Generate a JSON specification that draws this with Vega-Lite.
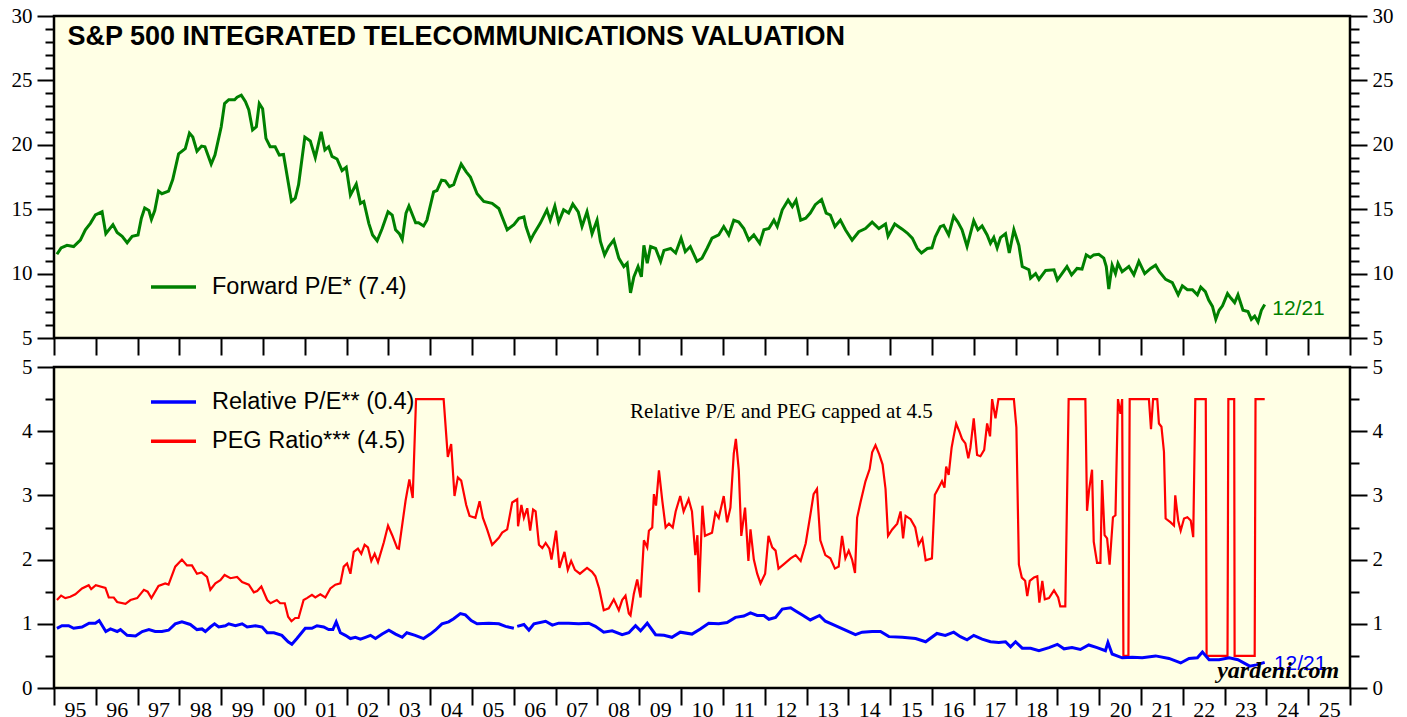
{
  "$schema": "https://vega.github.io/schema/vega-lite/v6.json",
  "background": "white",
  "padding": {"left": 9, "top": 3, "right": 5, "bottom": 5},
  "spacing": 29,
  "bounds": "flush",
  "resolve": {"scale": {"color": "independent"}, "legend": {"color": "independent"}},
  "config": {
    "view": {"stroke": "black", "strokeWidth": 2.5, "fill": "#FFFFE5"},
    "axis": {"labelFont": "Liberation Serif", "labelFontSize": 21, "labelColor": "black", "tickColor": "black", "tickWidth": 2, "domain": false, "grid": false}
  },
  "datasets": {
    "pe": [
      {"t":1995.07,"v":11.5},{"t":1995.17,"v":12.0},{"t":1995.31,"v":12.2},{"t":1995.47,"v":12.1},{"t":1995.63,"v":12.6},{"t":1995.75,"v":13.4},{"t":1995.87,"v":13.9},{"t":1995.99,"v":14.55},
      {"t":1996.15,"v":14.8},{"t":1996.24,"v":13.1},{"t":1996.41,"v":13.8},{"t":1996.51,"v":13.2},{"t":1996.63,"v":12.9},{"t":1996.75,"v":12.4},{"t":1996.87,"v":12.9},
      {"t":1997.01,"v":13.0},{"t":1997.09,"v":14.3},{"t":1997.17,"v":15.1},{"t":1997.27,"v":14.9},{"t":1997.33,"v":14.2},{"t":1997.41,"v":14.9},{"t":1997.5,"v":16.4},{"t":1997.58,"v":16.2},{"t":1997.74,"v":16.4},{"t":1997.84,"v":17.3},{"t":1997.98,"v":19.3},
      {"t":1998.14,"v":19.7},{"t":1998.24,"v":20.9},{"t":1998.32,"v":20.6},{"t":1998.42,"v":19.5},{"t":1998.53,"v":19.9},{"t":1998.61,"v":19.85},{"t":1998.76,"v":18.5},{"t":1998.85,"v":19.2},
      {"t":1999.0,"v":21.4},{"t":1999.08,"v":23.2},{"t":1999.18,"v":23.5},{"t":1999.32,"v":23.5},{"t":1999.38,"v":23.7},{"t":1999.48,"v":23.85},{"t":1999.58,"v":23.35},{"t":1999.66,"v":22.7},{"t":1999.75,"v":21.15},{"t":1999.84,"v":21.4},{"t":1999.91,"v":23.2},{"t":1999.99,"v":22.8},
      {"t":2000.07,"v":20.5},{"t":2000.17,"v":19.85},{"t":2000.29,"v":19.85},{"t":2000.39,"v":19.2},{"t":2000.49,"v":19.25},{"t":2000.68,"v":15.6},{"t":2000.77,"v":15.85},{"t":2000.85,"v":16.9},
      {"t":2001.0,"v":20.6},{"t":2001.13,"v":20.3},{"t":2001.25,"v":19.0},{"t":2001.39,"v":21.0},{"t":2001.48,"v":19.6},{"t":2001.57,"v":19.85},{"t":2001.65,"v":19.1},{"t":2001.77,"v":18.9},{"t":2001.89,"v":18.0},{"t":2001.99,"v":18.25},
      {"t":2002.09,"v":16.1},{"t":2002.23,"v":16.95},{"t":2002.33,"v":15.45},{"t":2002.41,"v":15.6},{"t":2002.53,"v":13.9},{"t":2002.62,"v":13.0},{"t":2002.73,"v":12.55},{"t":2002.85,"v":13.5},{"t":2002.99,"v":14.8},
      {"t":2003.09,"v":14.55},{"t":2003.17,"v":13.4},{"t":2003.26,"v":13.1},{"t":2003.33,"v":12.65},{"t":2003.42,"v":14.7},{"t":2003.49,"v":15.25},{"t":2003.65,"v":13.95},{"t":2003.72,"v":13.95},{"t":2003.84,"v":13.7},{"t":2003.92,"v":14.15},
      {"t":2004.08,"v":16.35},{"t":2004.16,"v":16.45},{"t":2004.27,"v":17.25},{"t":2004.36,"v":17.2},{"t":2004.46,"v":16.75},{"t":2004.56,"v":16.9},{"t":2004.64,"v":17.65},{"t":2004.74,"v":18.5},{"t":2004.86,"v":17.9},{"t":2004.96,"v":17.5},
      {"t":2005.12,"v":16.2},{"t":2005.28,"v":15.6},{"t":2005.48,"v":15.45},{"t":2005.64,"v":15.05},{"t":2005.84,"v":13.4},{"t":2006.0,"v":13.8},
      {"t":2006.12,"v":14.3},{"t":2006.24,"v":14.4},{"t":2006.29,"v":13.65},{"t":2006.4,"v":12.6},{"t":2006.48,"v":13.1},{"t":2006.63,"v":13.9},{"t":2006.79,"v":14.95},{"t":2006.87,"v":14.15},{"t":2006.98,"v":15.25},
      {"t":2007.07,"v":14.0},{"t":2007.19,"v":14.95},{"t":2007.31,"v":14.7},{"t":2007.41,"v":15.4},{"t":2007.54,"v":14.8},{"t":2007.63,"v":13.65},{"t":2007.75,"v":14.8},{"t":2007.87,"v":13.1},{"t":2007.99,"v":14.15},
      {"t":2008.07,"v":12.5},{"t":2008.17,"v":11.45},{"t":2008.27,"v":12.1},{"t":2008.39,"v":12.6},{"t":2008.51,"v":11.2},{"t":2008.63,"v":10.55},{"t":2008.71,"v":10.8},{"t":2008.79,"v":8.5},{"t":2008.87,"v":9.75},{"t":2008.97,"v":10.55},
      {"t":2009.05,"v":9.75},{"t":2009.11,"v":12.2},{"t":2009.19,"v":10.8},{"t":2009.27,"v":12.1},{"t":2009.39,"v":11.95},{"t":2009.51,"v":10.95},{"t":2009.59,"v":11.8},{"t":2009.75,"v":11.95},{"t":2009.87,"v":11.6},
      {"t":2010.0,"v":12.75},{"t":2010.1,"v":11.7},{"t":2010.22,"v":12.1},{"t":2010.38,"v":10.95},{"t":2010.5,"v":11.2},{"t":2010.62,"v":11.95},{"t":2010.74,"v":12.75},{"t":2010.9,"v":13.0},
      {"t":2011.02,"v":13.65},{"t":2011.14,"v":13.0},{"t":2011.26,"v":14.15},{"t":2011.38,"v":14.0},{"t":2011.5,"v":13.5},{"t":2011.62,"v":12.6},{"t":2011.74,"v":13.0},{"t":2011.88,"v":12.35},{"t":2011.98,"v":13.4},
      {"t":2012.1,"v":13.5},{"t":2012.22,"v":14.15},{"t":2012.3,"v":13.65},{"t":2012.42,"v":14.95},{"t":2012.56,"v":15.7},{"t":2012.66,"v":15.2},{"t":2012.75,"v":15.7},{"t":2012.86,"v":14.15},{"t":2012.98,"v":14.3},
      {"t":2013.09,"v":14.7},{"t":2013.21,"v":15.35},{"t":2013.36,"v":15.75},{"t":2013.47,"v":14.7},{"t":2013.57,"v":14.55},{"t":2013.68,"v":13.65},{"t":2013.81,"v":14.15},{"t":2013.93,"v":13.4},
      {"t":2014.09,"v":12.6},{"t":2014.25,"v":13.25},{"t":2014.41,"v":13.5},{"t":2014.57,"v":14.0},{"t":2014.73,"v":13.5},{"t":2014.89,"v":13.85},{"t":2014.95,"v":12.9},
      {"t":2015.11,"v":13.85},{"t":2015.29,"v":13.45},{"t":2015.41,"v":13.15},{"t":2015.53,"v":12.75},{"t":2015.65,"v":11.95},{"t":2015.75,"v":11.6},{"t":2015.89,"v":11.95},
      {"t":2016.0,"v":12.0},{"t":2016.08,"v":12.85},{"t":2016.2,"v":13.65},{"t":2016.28,"v":13.75},{"t":2016.4,"v":13.0},{"t":2016.52,"v":14.45},{"t":2016.62,"v":14.0},{"t":2016.72,"v":13.4},{"t":2016.84,"v":12.1},{"t":2016.92,"v":13.1},
      {"t":2017.0,"v":14.1},{"t":2017.1,"v":13.4},{"t":2017.2,"v":13.7},{"t":2017.32,"v":13.0},{"t":2017.4,"v":12.35},{"t":2017.48,"v":12.8},{"t":2017.56,"v":12.0},{"t":2017.64,"v":12.8},{"t":2017.76,"v":13.1},{"t":2017.85,"v":11.6},{"t":2017.96,"v":13.4},
      {"t":2018.08,"v":12.2},{"t":2018.16,"v":10.55},{"t":2018.32,"v":10.3},{"t":2018.36,"v":9.65},{"t":2018.48,"v":10.0},{"t":2018.56,"v":9.55},{"t":2018.72,"v":10.25},{"t":2018.92,"v":10.3},
      {"t":2019.0,"v":9.5},{"t":2019.11,"v":10.0},{"t":2019.23,"v":10.55},{"t":2019.34,"v":9.9},{"t":2019.47,"v":10.4},{"t":2019.59,"v":10.35},{"t":2019.69,"v":11.45},{"t":2019.79,"v":11.25},{"t":2019.87,"v":11.45},{"t":2019.99,"v":11.5},
      {"t":2020.11,"v":11.2},{"t":2020.17,"v":10.55},{"t":2020.23,"v":8.8},{"t":2020.31,"v":10.65},{"t":2020.39,"v":10.0},{"t":2020.45,"v":10.8},{"t":2020.55,"v":10.15},{"t":2020.71,"v":10.55},{"t":2020.83,"v":9.9},{"t":2020.95,"v":10.95},
      {"t":2021.09,"v":10.0},{"t":2021.23,"v":10.4},{"t":2021.35,"v":10.65},{"t":2021.44,"v":10.15},{"t":2021.59,"v":9.55},{"t":2021.75,"v":9.3},{"t":2021.89,"v":8.35},{"t":2021.99,"v":9.05},
      {"t":2022.11,"v":8.75},{"t":2022.23,"v":8.75},{"t":2022.35,"v":8.35},{"t":2022.43,"v":8.95},{"t":2022.54,"v":8.6},{"t":2022.62,"v":7.95},{"t":2022.71,"v":7.45},{"t":2022.79,"v":6.45},{"t":2022.87,"v":7.15},{"t":2022.95,"v":7.5},
      {"t":2023.07,"v":8.45},{"t":2023.15,"v":8.1},{"t":2023.24,"v":7.75},{"t":2023.32,"v":8.35},{"t":2023.44,"v":7.15},{"t":2023.56,"v":7.05},{"t":2023.64,"v":6.45},{"t":2023.72,"v":6.7},{"t":2023.8,"v":6.25},{"t":2023.88,"v":7.15},{"t":2023.96,"v":7.6}
    ],
    "rel": [
      {"t":1995.07,"v":0.93},{"t":1995.19,"v":0.97},{"t":1995.35,"v":0.97},{"t":1995.47,"v":0.93},{"t":1995.67,"v":0.95},{"t":1995.84,"v":1.01},{"t":1995.99,"v":1.01},
      {"t":1996.08,"v":1.05},{"t":1996.24,"v":0.88},{"t":1996.35,"v":0.92},{"t":1996.51,"v":0.88},{"t":1996.59,"v":0.91},{"t":1996.75,"v":0.82},{"t":1996.95,"v":0.81},
      {"t":1997.11,"v":0.88},{"t":1997.27,"v":0.91},{"t":1997.42,"v":0.88},{"t":1997.58,"v":0.88},{"t":1997.74,"v":0.9},{"t":1997.9,"v":1.0},
      {"t":1998.06,"v":1.03},{"t":1998.26,"v":0.99},{"t":1998.42,"v":0.91},{"t":1998.54,"v":0.92},{"t":1998.62,"v":0.88},{"t":1998.74,"v":0.95},{"t":1998.84,"v":1.0},{"t":1998.94,"v":0.95},
      {"t":1999.1,"v":0.97},{"t":1999.18,"v":1.0},{"t":1999.34,"v":0.97},{"t":1999.5,"v":1.0},{"t":1999.62,"v":0.95},{"t":1999.82,"v":0.97},{"t":1999.98,"v":0.95},
      {"t":2000.1,"v":0.86},{"t":2000.26,"v":0.86},{"t":2000.45,"v":0.82},{"t":2000.6,"v":0.72},{"t":2000.69,"v":0.68},{"t":2000.81,"v":0.77},
      {"t":2001.01,"v":0.93},{"t":2001.17,"v":0.93},{"t":2001.29,"v":0.97},{"t":2001.45,"v":0.95},{"t":2001.57,"v":0.91},{"t":2001.67,"v":0.91},{"t":2001.75,"v":1.03},{"t":2001.85,"v":0.86},{"t":2001.97,"v":0.82},
      {"t":2002.09,"v":0.77},{"t":2002.21,"v":0.79},{"t":2002.33,"v":0.76},{"t":2002.45,"v":0.79},{"t":2002.57,"v":0.82},{"t":2002.69,"v":0.77},{"t":2002.85,"v":0.84},
      {"t":2003.01,"v":0.9},{"t":2003.17,"v":0.84},{"t":2003.33,"v":0.79},{"t":2003.44,"v":0.86},{"t":2003.64,"v":0.82},{"t":2003.84,"v":0.77},
      {"t":2004.0,"v":0.84},{"t":2004.12,"v":0.9},{"t":2004.28,"v":1.0},{"t":2004.44,"v":1.03},{"t":2004.56,"v":1.08},{"t":2004.72,"v":1.16},{"t":2004.84,"v":1.14},{"t":2004.98,"v":1.05},
      {"t":2005.12,"v":1.0},{"t":2005.4,"v":1.01},{"t":2005.64,"v":1.0},{"t":2005.8,"v":0.96},{"t":2006.0,"v":0.93},{"t":2006.04,"v":null},
      {"t":2006.08,"v":0.96},{"t":2006.24,"v":0.99},{"t":2006.36,"v":0.9},{"t":2006.48,"v":1.0},{"t":2006.76,"v":1.04},{"t":2006.92,"v":0.98},
      {"t":2007.07,"v":1.01},{"t":2007.31,"v":1.01},{"t":2007.55,"v":1.0},{"t":2007.79,"v":1.01},{"t":2007.95,"v":0.96},
      {"t":2008.15,"v":0.87},{"t":2008.35,"v":0.89},{"t":2008.59,"v":0.83},{"t":2008.75,"v":0.86},{"t":2008.91,"v":0.97},
      {"t":2009.03,"v":0.89},{"t":2009.19,"v":1.01},{"t":2009.39,"v":0.83},{"t":2009.59,"v":0.82},{"t":2009.78,"v":0.79},{"t":2009.98,"v":0.87},
      {"t":2010.26,"v":0.84},{"t":2010.46,"v":0.92},{"t":2010.66,"v":1.01},{"t":2010.9,"v":1.0},
      {"t":2011.1,"v":1.02},{"t":2011.3,"v":1.1},{"t":2011.5,"v":1.12},{"t":2011.66,"v":1.17},{"t":2011.82,"v":1.13},{"t":2011.98,"v":1.13},
      {"t":2012.1,"v":1.07},{"t":2012.26,"v":1.1},{"t":2012.42,"v":1.23},{"t":2012.62,"v":1.25},{"t":2012.74,"v":1.2},{"t":2012.89,"v":1.14},
      {"t":2013.09,"v":1.06},{"t":2013.31,"v":1.13},{"t":2013.45,"v":1.04},{"t":2013.69,"v":0.97},{"t":2013.93,"v":0.9},
      {"t":2014.17,"v":0.83},{"t":2014.33,"v":0.87},{"t":2014.57,"v":0.88},{"t":2014.77,"v":0.88},{"t":2014.97,"v":0.8},
      {"t":2015.29,"v":0.79},{"t":2015.61,"v":0.77},{"t":2015.85,"v":0.72},
      {"t":2016.12,"v":0.85},{"t":2016.32,"v":0.82},{"t":2016.52,"v":0.87},{"t":2016.68,"v":0.8},{"t":2016.84,"v":0.75},
      {"t":2017.0,"v":0.82},{"t":2017.2,"v":0.76},{"t":2017.4,"v":0.72},{"t":2017.6,"v":0.71},{"t":2017.76,"v":0.72},{"t":2017.88,"v":0.64},
      {"t":2018.0,"v":0.72},{"t":2018.16,"v":0.62},{"t":2018.36,"v":0.62},{"t":2018.56,"v":0.58},{"t":2018.8,"v":0.63},
      {"t":2019.0,"v":0.68},{"t":2019.16,"v":0.61},{"t":2019.35,"v":0.63},{"t":2019.55,"v":0.6},{"t":2019.75,"v":0.67},{"t":2019.95,"v":0.63},
      {"t":2020.15,"v":0.58},{"t":2020.21,"v":0.71},{"t":2020.31,"v":0.53},{"t":2020.55,"v":0.47},{"t":2020.79,"v":0.48},
      {"t":2021.03,"v":0.47},{"t":2021.35,"v":0.5},{"t":2021.67,"v":0.46},{"t":2021.95,"v":0.39},
      {"t":2022.15,"v":0.46},{"t":2022.35,"v":0.47},{"t":2022.47,"v":0.56},{"t":2022.63,"v":0.44},{"t":2022.87,"v":0.44},
      {"t":2023.11,"v":0.47},{"t":2023.32,"v":0.44},{"t":2023.6,"v":0.34},{"t":2023.76,"v":0.36},{"t":2023.96,"v":0.4}
    ],
    "peg": [
      {"t":1995.07,"v":1.37},{"t":1995.17,"v":1.44},{"t":1995.27,"v":1.4},{"t":1995.39,"v":1.42},{"t":1995.51,"v":1.46},{"t":1995.67,"v":1.55},{"t":1995.83,"v":1.6},{"t":1995.89,"v":1.54},
      {"t":1996.0,"v":1.6},{"t":1996.23,"v":1.56},{"t":1996.31,"v":1.41},{"t":1996.43,"v":1.41},{"t":1996.51,"v":1.34},{"t":1996.71,"v":1.31},{"t":1996.83,"v":1.37},{"t":1996.99,"v":1.4},
      {"t":1997.15,"v":1.53},{"t":1997.24,"v":1.5},{"t":1997.33,"v":1.4},{"t":1997.5,"v":1.59},{"t":1997.66,"v":1.63},{"t":1997.74,"v":1.61},{"t":1997.9,"v":1.89},
      {"t":1998.06,"v":2.0},{"t":1998.18,"v":1.91},{"t":1998.3,"v":1.91},{"t":1998.42,"v":1.78},{"t":1998.53,"v":1.8},{"t":1998.66,"v":1.73},{"t":1998.74,"v":1.53},{"t":1998.86,"v":1.63},{"t":1998.98,"v":1.68},
      {"t":1999.08,"v":1.76},{"t":1999.22,"v":1.71},{"t":1999.38,"v":1.73},{"t":1999.5,"v":1.65},{"t":1999.66,"v":1.61},{"t":1999.78,"v":1.49},{"t":1999.86,"v":1.51},{"t":1999.96,"v":1.58},
      {"t":2000.1,"v":1.37},{"t":2000.18,"v":1.32},{"t":2000.33,"v":1.37},{"t":2000.41,"v":1.32},{"t":2000.52,"v":1.32},{"t":2000.6,"v":1.11},{"t":2000.68,"v":1.04},{"t":2000.77,"v":1.09},{"t":2000.85,"v":1.09},{"t":2000.97,"v":1.37},
      {"t":2001.05,"v":1.4},{"t":2001.17,"v":1.45},{"t":2001.25,"v":1.41},{"t":2001.37,"v":1.46},{"t":2001.49,"v":1.41},{"t":2001.61,"v":1.55},{"t":2001.73,"v":1.61},{"t":2001.85,"v":1.63},{"t":2001.93,"v":1.89},
      {"t":2002.01,"v":1.94},{"t":2002.09,"v":1.78},{"t":2002.17,"v":2.12},{"t":2002.27,"v":2.17},{"t":2002.35,"v":2.09},{"t":2002.43,"v":2.23},{"t":2002.51,"v":2.19},{"t":2002.59,"v":1.98},{"t":2002.67,"v":2.09},{"t":2002.75,"v":1.96},{"t":2002.89,"v":2.27},{"t":2002.99,"v":2.53},
      {"t":2003.09,"v":2.38},{"t":2003.21,"v":2.18},{"t":2003.25,"v":2.17},{"t":2003.41,"v":2.92},{"t":2003.5,"v":3.25},{"t":2003.58,"v":2.96},{"t":2003.66,"v":4.5},
      {"t":2004.32,"v":4.5},{"t":2004.42,"v":3.6},{"t":2004.5,"v":3.8},{"t":2004.58,"v":2.99},{"t":2004.66,"v":3.28},{"t":2004.74,"v":3.23},{"t":2004.86,"v":2.85},{"t":2004.94,"v":2.68},
      {"t":2005.08,"v":2.65},{"t":2005.18,"v":2.91},{"t":2005.26,"v":2.65},{"t":2005.36,"v":2.47},{"t":2005.48,"v":2.23},{"t":2005.64,"v":2.34},{"t":2005.72,"v":2.42},{"t":2005.84,"v":2.47},{"t":2005.96,"v":2.89},
      {"t":2006.08,"v":2.94},{"t":2006.1,"v":2.52},{"t":2006.18,"v":2.85},{"t":2006.24,"v":2.65},{"t":2006.32,"v":2.8},{"t":2006.39,"v":2.45},{"t":2006.46,"v":2.78},{"t":2006.52,"v":2.75},{"t":2006.6,"v":2.23},{"t":2006.68,"v":2.18},{"t":2006.76,"v":2.26},{"t":2006.85,"v":2.17},{"t":2006.9,"v":2.0},
      {"t":2007.01,"v":2.45},{"t":2007.09,"v":1.87},{"t":2007.21,"v":2.12},{"t":2007.29,"v":1.84},{"t":2007.37,"v":1.98},{"t":2007.46,"v":1.84},{"t":2007.58,"v":1.78},{"t":2007.75,"v":1.87},{"t":2007.87,"v":1.81},{"t":2007.95,"v":1.74},
      {"t":2008.04,"v":1.55},{"t":2008.15,"v":1.21},{"t":2008.27,"v":1.24},{"t":2008.39,"v":1.38},{"t":2008.51,"v":1.21},{"t":2008.59,"v":1.37},{"t":2008.67,"v":1.44},{"t":2008.75,"v":1.16},{"t":2008.79,"v":1.13},{"t":2008.87,"v":1.47},{"t":2008.95,"v":1.69},
      {"t":2009.03,"v":1.41},{"t":2009.11,"v":2.3},{"t":2009.19,"v":2.19},{"t":2009.23,"v":2.45},{"t":2009.31,"v":2.5},{"t":2009.35,"v":3.02},{"t":2009.4,"v":2.84},{"t":2009.47,"v":3.39},{"t":2009.55,"v":2.92},{"t":2009.63,"v":2.5},{"t":2009.71,"v":2.56},{"t":2009.8,"v":2.5},{"t":2009.87,"v":2.75},{"t":2009.98,"v":2.99},
      {"t":2010.06,"v":2.75},{"t":2010.18,"v":2.94},{"t":2010.26,"v":2.75},{"t":2010.34,"v":2.07},{"t":2010.39,"v":2.38},{"t":2010.43,"v":1.49},{"t":2010.51,"v":2.84},{"t":2010.57,"v":2.37},{"t":2010.74,"v":2.42},{"t":2010.82,"v":2.73},{"t":2010.9,"v":2.65},
      {"t":2011.02,"v":2.99},{"t":2011.1,"v":2.58},{"t":2011.18,"v":2.81},{"t":2011.26,"v":3.65},{"t":2011.31,"v":3.88},{"t":2011.38,"v":3.39},{"t":2011.44,"v":2.37},{"t":2011.53,"v":2.81},{"t":2011.61,"v":1.98},{"t":2011.66,"v":2.47},{"t":2011.74,"v":2.0},{"t":2011.82,"v":1.78},{"t":2011.9,"v":1.63},
      {"t":2012.01,"v":1.78},{"t":2012.09,"v":2.37},{"t":2012.18,"v":2.19},{"t":2012.26,"v":2.14},{"t":2012.33,"v":1.86},{"t":2012.46,"v":1.93},{"t":2012.62,"v":2.02},{"t":2012.74,"v":2.07},{"t":2012.86,"v":1.98},{"t":2012.98,"v":2.25},
      {"t":2013.09,"v":2.69},{"t":2013.17,"v":3.02},{"t":2013.25,"v":3.1},{"t":2013.33,"v":2.3},{"t":2013.45,"v":2.07},{"t":2013.57,"v":2.02},{"t":2013.68,"v":1.86},{"t":2013.77,"v":1.89},{"t":2013.85,"v":2.37},{"t":2013.93,"v":2.02},
      {"t":2014.01,"v":2.14},{"t":2014.09,"v":2.0},{"t":2014.16,"v":1.79},{"t":2014.21,"v":2.65},{"t":2014.29,"v":2.89},{"t":2014.41,"v":3.22},{"t":2014.51,"v":3.41},{"t":2014.57,"v":3.67},{"t":2014.65,"v":3.78},{"t":2014.74,"v":3.64},{"t":2014.82,"v":3.48},{"t":2014.89,"v":3.1},{"t":2014.95,"v":2.37},
      {"t":2015.05,"v":2.47},{"t":2015.17,"v":2.56},{"t":2015.25,"v":2.75},{"t":2015.31,"v":2.33},{"t":2015.37,"v":2.68},{"t":2015.49,"v":2.63},{"t":2015.6,"v":2.5},{"t":2015.68,"v":2.23},{"t":2015.77,"v":2.33},{"t":2015.85,"v":1.99},
      {"t":2016.0,"v":2.02},{"t":2016.07,"v":3.01},{"t":2016.16,"v":3.12},{"t":2016.24,"v":3.22},{"t":2016.3,"v":3.12},{"t":2016.34,"v":3.45},{"t":2016.4,"v":3.32},{"t":2016.47,"v":3.74},{"t":2016.52,"v":3.92},{"t":2016.58,"v":4.12},{"t":2016.66,"v":3.99},{"t":2016.72,"v":3.88},{"t":2016.8,"v":3.81},{"t":2016.87,"v":3.58},{"t":2016.92,"v":3.74},
      {"t":2017.0,"v":4.2},{"t":2017.08,"v":3.63},{"t":2017.16,"v":3.61},{"t":2017.25,"v":3.71},{"t":2017.32,"v":4.12},{"t":2017.39,"v":3.92},{"t":2017.44,"v":4.5},{"t":2017.52,"v":4.2},{"t":2017.59,"v":4.5},{"t":2017.96,"v":4.5},
      {"t":2018.02,"v":4.06},{"t":2018.08,"v":1.92},{"t":2018.15,"v":1.72},{"t":2018.23,"v":1.67},{"t":2018.28,"v":1.43},{"t":2018.34,"v":1.67},{"t":2018.44,"v":1.72},{"t":2018.52,"v":1.74},{"t":2018.57,"v":1.33},{"t":2018.64,"v":1.67},{"t":2018.7,"v":1.38},{"t":2018.8,"v":1.4},{"t":2018.92,"v":1.52},
      {"t":2019.02,"v":1.41},{"t":2019.07,"v":1.27},{"t":2019.19,"v":1.27},{"t":2019.27,"v":4.5},{"t":2019.67,"v":4.5},{"t":2019.71,"v":2.76},{"t":2019.76,"v":3.09},{"t":2019.83,"v":3.4},{"t":2019.87,"v":2.28},{"t":2019.95,"v":1.95},
      {"t":2020.03,"v":1.95},{"t":2020.07,"v":3.24},{"t":2020.13,"v":2.38},{"t":2020.19,"v":2.33},{"t":2020.25,"v":1.92},{"t":2020.33,"v":2.66},{"t":2020.39,"v":2.69},{"t":2020.45,"v":4.5},{"t":2020.51,"v":4.27},{"t":2020.55,"v":4.5},{"t":2020.58,"v":0.5},{"t":2020.7,"v":0.5},{"t":2020.73,"v":4.5},
      {"t":2021.19,"v":4.5},{"t":2021.24,"v":4.03},{"t":2021.29,"v":4.5},{"t":2021.39,"v":4.5},{"t":2021.43,"v":4.12},{"t":2021.49,"v":4.07},{"t":2021.55,"v":3.68},{"t":2021.59,"v":2.64},{"t":2021.71,"v":2.58},{"t":2021.79,"v":2.53},{"t":2021.82,"v":3.0},{"t":2021.89,"v":2.61},{"t":2021.95,"v":2.45},
      {"t":2022.03,"v":2.64},{"t":2022.11,"v":2.66},{"t":2022.19,"v":2.61},{"t":2022.25,"v":2.35},{"t":2022.3,"v":4.5},{"t":2022.55,"v":4.5},{"t":2022.57,"v":0.5},
      {"t":2023.07,"v":0.5},{"t":2023.09,"v":4.5},{"t":2023.23,"v":4.5},{"t":2023.24,"v":0.5},{"t":2023.72,"v":0.5},{"t":2023.74,"v":4.5},{"t":2023.96,"v":4.5}
    ]
  },
  "vconcat": [
    {
      "width": 1296,
      "height": 322,
      "encoding": {
        "x": {"field": "t", "type": "quantitative", "scale": {"domain": [1995, 2026], "nice": false, "zero": false},
          "axis": {"title": null, "values": [1995,1996,1997,1998,1999,2000,2001,2002,2003,2004,2005,2006,2007,2008,2009,2010,2011,2012,2013,2014,2015,2016,2017,2018,2019,2020,2021,2022,2023,2024,2025,2026], "labels": false, "tickSize": 17}}
      },
      "layer": [
        {
          "data": {"name": "pe"},
          "mark": {"type": "line", "strokeWidth": 3},
          "encoding": {
            "y": {"field": "v", "type": "quantitative", "scale": {"domain": [5, 30], "nice": false, "zero": false},
              "axis": {"title": null, "orient": "left", "values": [5,10,15,20,25,30], "tickSize": 17, "labelPadding": 5}},
            "color": {"datum": "Forward P/E* (7.4)", "type": "nominal", "scale": {"domain": ["Forward P/E* (7.4)"], "range": ["#008000"]},
              "legend": {"orient": "none", "legendX": 95, "legendY": 246.5, "title": null, "labelFont": "Liberation Sans", "labelFontSize": 23.5, "labelColor": "black", "labelLimit": 0, "symbolType": "stroke", "symbolSize": 2025, "symbolStrokeWidth": 3.5, "labelOffset": 14, "padding": 0}}
          }
        },
        {
          "data": {"values": [{"t": 1995.32, "v": 27.75, "label": "S&P 500 INTEGRATED TELECOMMUNICATIONS VALUATION"}]},
          "mark": {"type": "text", "font": "Liberation Sans", "fontWeight": "bold", "fontSize": 27, "align": "left", "baseline": "alphabetic", "color": "black"},
          "encoding": {
            "y": {"field": "v", "type": "quantitative", "scale": {"domain": [5, 30], "nice": false, "zero": false},
              "axis": {"title": null, "orient": "right", "values": [5,10,15,20,25,30], "tickSize": 17, "labelPadding": 5}},
            "text": {"field": "label"}
          }
        },
        {
          "data": {"values": [{"t": 2024.14, "v": 6.79, "label": "12/21"}]},
          "mark": {"type": "text", "font": "Liberation Sans", "fontSize": 21, "align": "left", "baseline": "alphabetic", "color": "#008000"},
          "encoding": {
            "y": {"field": "v", "type": "quantitative", "scale": {"domain": [5, 30], "nice": false, "zero": false},
              "axis": {"title": null, "orient": "left", "values": [6,7,8,9,11,12,13,14,16,17,18,19,21,22,23,24,26,27,28,29], "tickSize": 9, "labels": false}},
            "text": {"field": "label"}
          }
        },
        {
          "data": {"values": [{"t": 2024.14, "v": 6.79}]},
          "mark": {"type": "point", "opacity": 0, "size": 1},
          "encoding": {
            "y": {"field": "v", "type": "quantitative", "scale": {"domain": [5, 30], "nice": false, "zero": false},
              "axis": {"title": null, "orient": "right", "values": [6,7,8,9,11,12,13,14,16,17,18,19,21,22,23,24,26,27,28,29], "tickSize": 9, "labels": false}}
          }
        }
      ],
      "resolve": {"axis": {"y": "independent"}}
    },
    {
      "width": 1296,
      "height": 321,
      "encoding": {
        "x": {"field": "t", "type": "quantitative", "scale": {"domain": [1995, 2026], "nice": false, "zero": false},
          "axis": {"title": null, "values": [1995,1996,1997,1998,1999,2000,2001,2002,2003,2004,2005,2006,2007,2008,2009,2010,2011,2012,2013,2014,2015,2016,2017,2018,2019,2020,2021,2022,2023,2024,2025,2026], "tickSize": 17,
            "labelExpr": "datum.value < 2026 ? format(datum.value % 100, '02d') : ''", "labelOffset": 21, "labelPadding": -6, "labelBaseline": "top", "labelFontSize": 22, "labelFlush": false, "labelOverlap": false}}
      },
      "layer": [
        {
          "data": {"name": "peg"},
          "mark": {"type": "line", "strokeWidth": 2.2},
          "encoding": {
            "y": {"field": "v", "type": "quantitative", "scale": {"domain": [0, 5], "nice": false, "zero": false},
              "axis": {"title": null, "orient": "right", "values": [0,1,2,3,4,5], "tickSize": 17, "labelPadding": 5}},
            "color": {"datum": "PEG Ratio*** (4.5)", "type": "nominal", "scale": {"domain": ["Relative P/E** (0.4)", "PEG Ratio*** (4.5)"], "range": ["#0000FF", "#FF0000"]},
              "legend": {"orient": "none", "legendX": 95, "legendY": 10.5, "title": null, "labelFont": "Liberation Sans", "labelFontSize": 23.5, "labelColor": "black", "labelLimit": 0, "symbolType": "stroke", "symbolSize": 2025, "symbolStrokeWidth": 3.5, "labelOffset": 14, "rowPadding": 3.3, "padding": 0}}
          }
        },
        {
          "data": {"name": "rel"},
          "mark": {"type": "line", "strokeWidth": 3, "invalid": "break-paths-show-domains"},
          "encoding": {
            "y": {"field": "v", "type": "quantitative", "scale": {"domain": [0, 5], "nice": false, "zero": false},
              "axis": {"title": null, "orient": "left", "values": [0,1,2,3,4,5], "tickSize": 17, "labelPadding": 5}},
            "color": {"datum": "Relative P/E** (0.4)", "type": "nominal", "scale": {"domain": ["Relative P/E** (0.4)", "PEG Ratio*** (4.5)"], "range": ["#0000FF", "#FF0000"]},
              "legend": {"orient": "none", "legendX": 95, "legendY": 10.5, "title": null, "labelFont": "Liberation Sans", "labelFontSize": 23.5, "labelColor": "black", "labelLimit": 0, "symbolType": "stroke", "symbolSize": 2025, "symbolStrokeWidth": 3.5, "labelOffset": 14, "rowPadding": 3.3, "padding": 0}}
          }
        },
        {
          "data": {"values": [{"t": 2008.78, "v": 4.21, "label": "Relative P/E and PEG capped at 4.5"}]},
          "mark": {"type": "text", "font": "Liberation Serif", "fontSize": 21, "align": "left", "baseline": "alphabetic", "color": "black"},
          "encoding": {
            "y": {"field": "v", "type": "quantitative", "scale": {"domain": [0, 5], "nice": false, "zero": false},
              "axis": {"title": null, "orient": "left", "values": [0.5,1.5,2.5,3.5,4.5], "tickSize": 9, "labels": false}},
            "text": {"field": "label"}
          }
        },
        {
          "data": {"values": [{"t": 2024.18, "v": 0.28, "label": "12/21"}]},
          "mark": {"type": "text", "font": "Liberation Sans", "fontSize": 21, "align": "left", "baseline": "alphabetic", "color": "#0000FF"},
          "encoding": {
            "y": {"field": "v", "type": "quantitative", "scale": {"domain": [0, 5], "nice": false, "zero": false},
              "axis": {"title": null, "orient": "right", "values": [0.5,1.5,2.5,3.5,4.5], "tickSize": 9, "labels": false}},
            "text": {"field": "label"}
          }
        },
        {
          "data": {"values": [{"t": 2025.74, "v": 0.156, "label": "yardeni.com"}]},
          "mark": {"type": "text", "font": "Liberation Serif", "fontSize": 24, "fontWeight": "bold", "fontStyle": "italic", "align": "right", "baseline": "alphabetic", "color": "black"},
          "encoding": {
            "y": {"field": "v", "type": "quantitative", "scale": {"domain": [0, 5], "nice": false, "zero": false}, "axis": null},
            "text": {"field": "label"}
          }
        }
      ],
      "resolve": {"axis": {"y": "independent"}}
    }
  ]
}
